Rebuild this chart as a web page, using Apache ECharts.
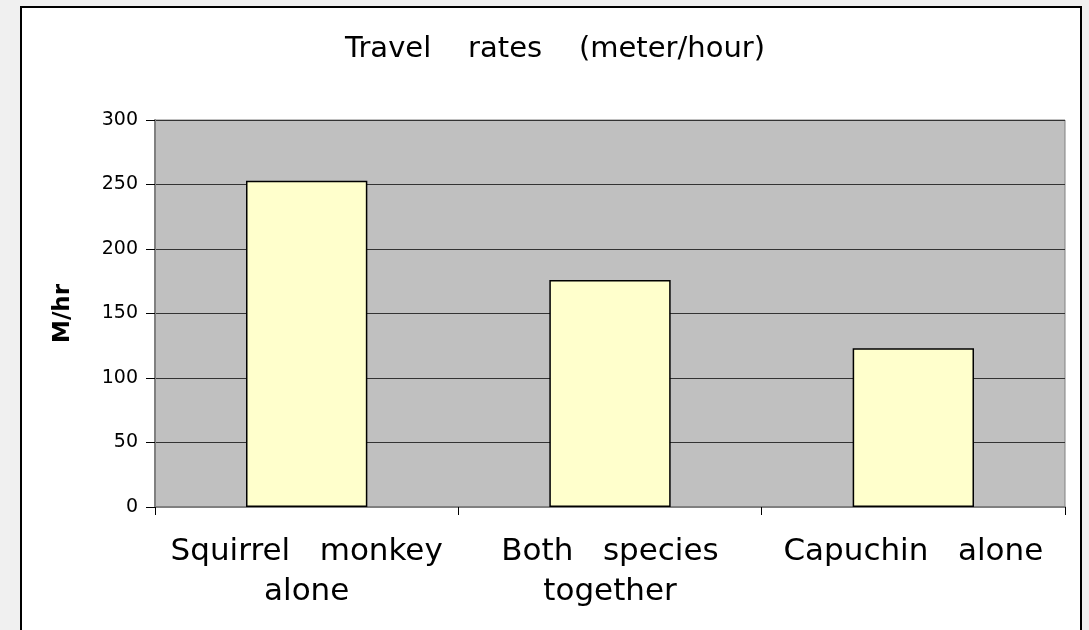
<!DOCTYPE html>
<html lang="en">
  <head>
    <meta charset="utf-8" />
    <title>Travel rates</title>
    <script src="https://cdn.jsdelivr.net/npm/echarts@6/dist/echarts.min.js"></script>
    <style>
      html, body {
        margin: 0;
        padding: 0;
        background: #f0f0f0;
        overflow: hidden;
      }
      /* white card with black frame behind the chart */
      #frame {
        position: absolute;
        left: 20px;
        top: 6px;
        width: 1058px;
        height: 650px;
        border: 2px solid #000;
        background: #fff;
      }
      #chart {
        position: absolute;
        left: 0;
        top: 0;
        width: 1089px;
        height: 630px;
      }
    </style>
  </head>
  <body>
    <div id="frame"></div>
    <div id="chart"></div>
    <script>
      const categories = ["Squirrel   monkey\nalone", "Both   species\ntogether", "Capuchin   alone"];
      const rates = [253, 176, 123];
      const yTicks = { min: 0, max: 300, interval: 50 };

      const chart = echarts.init(document.getElementById("chart"));
      const font = "DejaVu Sans, Verdana, sans-serif";

      chart.setOption({
        animation: false,
        backgroundColor: "transparent",
        title: {
          text: "Travel    rates    (meter/hour)",
          left: 550,
          textAlign: "center",
          top: 30,
          textStyle: { fontFamily: font, fontSize: 29, fontWeight: "normal", color: "#000" },
        },
        grid: {
          left: 155,
          right: 24,
          top: 120,
          bottom: 123,
          show: true,
          backgroundColor: "#c0c0c0",
          borderColor: "#808080",
          borderWidth: 1,
        },
        xAxis: {
          type: "category",
          data: categories,
          axisLine: { lineStyle: { color: "#808080", width: 2 } },
          axisTick: { show: true, interval: 0, length: 8, lineStyle: { color: "#000", width: 1 } },
          axisLabel: {
            interval: 0,
            margin: 25,
            color: "#000",
            fontFamily: font,
            fontSize: 31,
            lineHeight: 40,
          },
        },
        yAxis: {
          type: "value",
          min: yTicks.min,
          max: yTicks.max,
          interval: yTicks.interval,
          name: "M/hr",
          nameLocation: "middle",
          nameRotate: 90,
          nameGap: 80,
          nameTextStyle: { fontFamily: font, fontSize: 23, fontWeight: "bold", color: "#000" },
          axisLine: { show: true, lineStyle: { color: "#808080", width: 2 } },
          axisTick: { show: true, length: 9, lineStyle: { color: "#000" } },
          axisLabel: { margin: 17, color: "#000", fontFamily: font, fontSize: 19 },
          splitLine: { lineStyle: { color: "#333", width: 1 } },
        },
        series: [
          {
            type: "bar",
            data: rates,
            barWidth: "40%",
            itemStyle: { color: "#ffffcc", borderColor: "#000", borderWidth: 1.5 },
          },
        ],
      });
    </script>
  </body>
</html>
